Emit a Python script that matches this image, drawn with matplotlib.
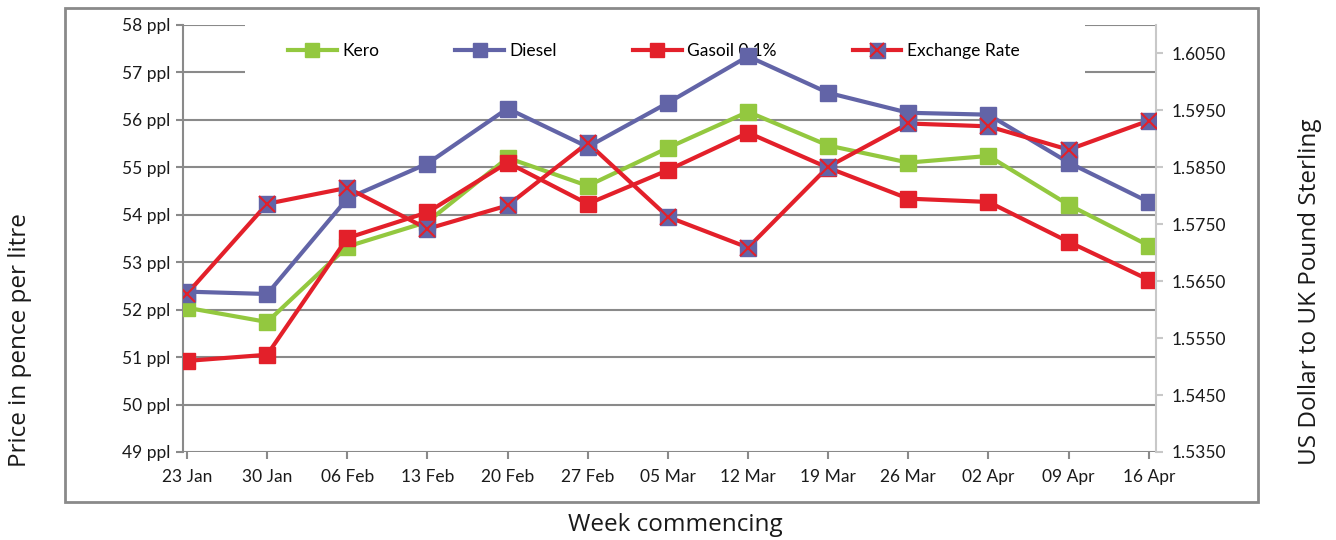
import numpy as np
import matplotlib.pyplot as plt
from matplotlib.patches import Rectangle
from matplotlib.ticker import FuncFormatter

weeks = ["23 Jan", "30 Jan", "06 Feb", "13 Feb", "20 Feb", "27 Feb", "05 Mar",
         "12 Mar", "19 Mar", "26 Mar", "02 Apr", "09 Apr", "16 Apr"]

kero = [52.04, 51.74, 53.33, 53.85, 55.20, 54.61, 55.41, 56.17, 55.46, 55.10, 55.24, 54.21, 53.35]
diesel = [52.38, 52.33, 54.34, 55.08, 56.24, 55.43, 56.36, 57.34, 56.57, 56.15, 56.11, 55.10, 54.27]
gasoil = [50.92, 51.05, 53.51, 54.05, 55.10, 54.23, 54.94, 55.73, 54.99, 54.34, 54.27, 53.43, 52.63]
exchange = [1.5628, 1.5786, 1.5814, 1.5742, 1.5783, 1.5893, 1.5763, 1.5709, 1.5851,
            1.5927, 1.5922, 1.5881, 1.5932]

ppl_ticks = np.arange(49, 59)
rate_ticks = np.arange(1.535, 1.6051, 0.01)

green = "#93c83f"
blue = "#6264a7"
red = "#e3202a"
grid_c = "#8a8a8a"

plt.rcParams['font.family'] = ['Lato', 'DejaVu Sans']

fig = plt.figure(figsize=(13.36, 5.4), dpi=100)
ax = fig.add_axes([183 / 1336, 1 - 452 / 540, 973 / 1336, 427 / 540])
ax2 = ax.twinx()

x = np.arange(len(weeks))

# outer chart frame
fig.patches.append(Rectangle((65 / 1336, 1 - 502 / 540), 1193 / 1336, 494 / 540,
                             transform=fig.transFigure, fill=False,
                             edgecolor=grid_c, linewidth=2))

ax.set_ylim(49, 58)
ax.set_xlim(-0.05, 12.09)
ax.set_yticks(ppl_ticks)
ax.yaxis.set_major_formatter(FuncFormatter(lambda v, p: f"{int(v)} ppl"))
ax.set_xticks(x)
ax.set_xticklabels(weeks)
ax.grid(axis="y", color=grid_c, linewidth=1.5)
ax.set_axisbelow(True)
for s in ["top", "right", "bottom"]:
    ax.spines[s].set_visible(False)
ax.spines["left"].set_color(grid_c)
ax.spines["left"].set_linewidth(1.5)
ax.tick_params(axis="both", colors=grid_c, width=1.5, length=5, labelsize=12.5,
               labelcolor="#1a1a1a")
ax.tick_params(axis="x", pad=7)
ax.tick_params(axis="y", pad=4)

# white area behind the legend hides the top gridlines
ax.add_patch(Rectangle((0.064, 0.83), 0.863, 0.19, transform=ax.transAxes,
                       facecolor="white", edgecolor="none", zorder=1, clip_on=False))

l1, = ax.plot(x, kero, color=green, lw=3, marker="s", ms=11, mec=green, zorder=3, label="Kero")
l2, = ax.plot(x, diesel, color=blue, lw=3, marker="s", ms=11, mec=blue, zorder=3, label="Diesel")
l3, = ax.plot(x, gasoil, color=red, lw=3, marker="s", ms=11, mec=red, zorder=3, label="Gasoil 0.1%")

ax2.set_ylim(1.535, 1.61)
ax2.set_yticks(rate_ticks)
ax2.yaxis.set_major_formatter(FuncFormatter(lambda v, p: f"{v:.4f}"))
for s in ["top", "left", "bottom"]:
    ax2.spines[s].set_visible(False)
ax2.spines["right"].set_color("#c8c8c8")
ax2.spines["right"].set_linewidth(1.5)
ax2.tick_params(axis="y", colors="#c8c8c8", width=1.5, length=5, labelsize=12.5,
                labelcolor="#1a1a1a", pad=6)
l4a, = ax2.plot(x, exchange, color=red, lw=3, marker="s", ms=12, mfc=blue, mec=blue, zorder=3)
l4b, = ax2.plot(x, exchange, color="none", lw=0, marker="x", ms=11, mew=1.5, mec=red, zorder=4)

leg = ax.legend([l1, l2, l3, (l4a, l4b)], ["Kero", "Diesel", "Gasoil 0.1%", "Exchange Rate"],
                loc="upper left", bbox_to_anchor=(0.092, 0.995), ncol=4, frameon=False,
                fontsize=12.5, handlelength=2.8, handletextpad=0.3, columnspacing=4.4,
                markerscale=0.9)
leg.set_zorder(1.5)

fig.text(20 / 1336, 1 - 340 / 540, "Price in pence per litre", rotation=90,
         ha="center", va="center", fontsize=17.5, family=["Open Sans", "DejaVu Sans"],
         color="#1a1a1a")
fig.text(1310 / 1336, 1 - 292 / 540, "US Dollar to UK Pound Sterling", rotation=90,
         ha="center", va="center", fontsize=17.5, family=["Open Sans", "DejaVu Sans"],
         color="#1a1a1a")
fig.text(675 / 1336, 1 - 525 / 540, "Week commencing", ha="center", va="center",
         fontsize=17.5, family=["Open Sans", "DejaVu Sans"], color="#1a1a1a")

fig.savefig("out.png", dpi=100)
